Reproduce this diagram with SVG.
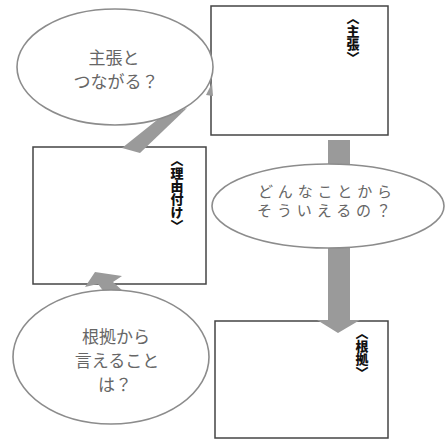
<svg xmlns="http://www.w3.org/2000/svg" width="448" height="441" viewBox="0 0 448 441">
<style>
.box{fill:#fff;stroke:#444;stroke-width:1.5}
.bub{fill:#fff;stroke:#8c8c8c;stroke-width:1.6}
.arr{fill:#9a9a9a;stroke:none}
.q{font-family:"Noto Sans CJK JP","Noto Sans CJK SC",sans-serif;font-size:17px;fill:#666;text-anchor:middle}
.q2{font-family:"Noto Sans CJK JP","Noto Sans CJK SC",sans-serif;font-size:15px;fill:#666;text-anchor:middle}
.lbl{font-family:"Noto Sans CJK JP","Noto Sans CJK SC",sans-serif;font-size:13px;font-weight:900;fill:#111;writing-mode:vertical-rl}
</style>
<rect width="448" height="441" fill="#fff"/>
<g id="box-shucho">
<rect class="box" x="211" y="6" width="177" height="129"/>
<text class="lbl" x="353" y="12">〈主張〉</text>
</g>
<g id="box-riyu">
<rect class="box" x="33" y="147" width="173" height="137"/>
<text class="lbl" x="177" y="154">〈理由付け〉</text>
</g>
<g id="box-konkyo">
<rect class="box" x="215" y="321" width="173" height="117"/>
<text class="lbl" x="362" y="327">〈根拠〉</text>
</g>
<g id="connectors">
<polygon class="arr" points="157,120 187,108 140,153 122,148"/>
<polygon class="arr" points="206,95 212,83 213,96"/>
<rect class="arr" x="328" y="140" width="22" height="181"/>
<polygon class="arr" points="317,320 360,320 338,333"/>
<polygon class="arr" points="95,272 122,276 113,282 124,292 104,292 98,284 85,287"/>
</g>
<g id="bubble-1">
<ellipse class="bub" cx="115" cy="67" rx="98" ry="58"/>
<text class="q" x="114" y="64">主張と</text>
<text class="q" x="116" y="88">つながる？</text>
</g>
<g id="bubble-2">
<ellipse class="bub" cx="328" cy="206" rx="116" ry="42"/>
<text class="q2" x="325" y="197" textLength="134" lengthAdjust="spacing">どんなことから</text>
<text class="q2" x="324" y="216" textLength="134" lengthAdjust="spacing">そういえるの？</text>
</g>
<g id="bubble-3">
<ellipse class="bub" cx="111" cy="357" rx="98" ry="67"/>
<text class="q" x="116" y="343">根拠から</text>
<text class="q" x="117" y="367">言えること</text>
<text class="q" x="115" y="391">は？</text>
</g>
</svg>
